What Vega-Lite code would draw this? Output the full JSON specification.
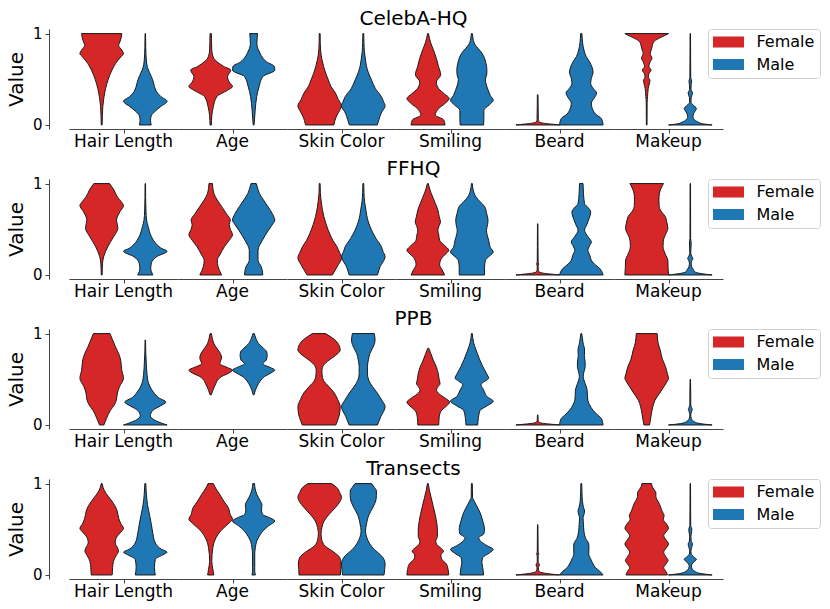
{
  "$schema": "https://vega.github.io/schema/vega-lite/v6.json",
  "padding": {"left": 6, "top": 8, "right": 5, "bottom": 2},
  "background": "white",
  "config": {
    "font": "DejaVu Sans",
    "view": {"stroke": null},
    "title": {"fontSize": 20, "fontWeight": "normal", "color": "black", "anchor": "middle", "offset": -2},
    "axis": {"domainColor": "#444444", "tickColor": "#444444", "labelColor": "black", "titleColor": "black", "titleFontWeight": "normal"},
    "header": {"labelFontSize": 17, "labelColor": "black", "labelOrient": "bottom", "labelPadding": 0},
    "legend": {
      "title": null, "orient": "right", "offset": -15,
      "symbolType": "M-1.94,-0.68H1.94V0.68H-1.94Z", "symbolSize": 256, "symbolOffset": 7.5, "symbolStrokeWidth": 0, "symbolOpacity": 1,
      "labelFontSize": 16, "labelColor": "black", "labelOffset": 20,
      "strokeColor": "#d0d0d0", "fillColor": "white", "padding": 5, "cornerRadius": 3, "rowPadding": 6.5
    }
  },
  "datasets": {
    "celeba": [
      {"a":"Hair Length","g":"Female","v":0,"w":0.02},{"a":"Hair Length","g":"Female","v":0.1,"w":0.03},{"a":"Hair Length","g":"Female","v":0.2,"w":0.05},{"a":"Hair Length","g":"Female","v":0.3,"w":0.1},{"a":"Hair Length","g":"Female","v":0.4,"w":0.18},{"a":"Hair Length","g":"Female","v":0.5,"w":0.3},{"a":"Hair Length","g":"Female","v":0.6,"w":0.47},{"a":"Hair Length","g":"Female","v":0.7,"w":0.72},{"a":"Hair Length","g":"Female","v":0.75,"w":0.9},{"a":"Hair Length","g":"Female","v":0.78,"w":1.0},{"a":"Hair Length","g":"Female","v":0.82,"w":0.92},{"a":"Hair Length","g":"Female","v":0.87,"w":0.78},{"a":"Hair Length","g":"Female","v":0.92,"w":0.85},{"a":"Hair Length","g":"Female","v":0.96,"w":0.9},{"a":"Hair Length","g":"Female","v":1,"w":0.92},
      {"a":"Hair Length","g":"Male","v":0,"w":0.27},{"a":"Hair Length","g":"Male","v":0.05,"w":0.24},{"a":"Hair Length","g":"Male","v":0.1,"w":0.27},{"a":"Hair Length","g":"Male","v":0.15,"w":0.45},{"a":"Hair Length","g":"Male","v":0.2,"w":0.7},{"a":"Hair Length","g":"Male","v":0.26,"w":1.0},{"a":"Hair Length","g":"Male","v":0.31,"w":0.72},{"a":"Hair Length","g":"Male","v":0.37,"w":0.5},{"a":"Hair Length","g":"Male","v":0.42,"w":0.42},{"a":"Hair Length","g":"Male","v":0.5,"w":0.33},{"a":"Hair Length","g":"Male","v":0.57,"w":0.2},{"a":"Hair Length","g":"Male","v":0.63,"w":0.1},{"a":"Hair Length","g":"Male","v":0.7,"w":0.05},{"a":"Hair Length","g":"Male","v":0.85,"w":0.02},{"a":"Hair Length","g":"Male","v":1,"w":0.01},
      {"a":"Age","g":"Female","v":0,"w":0.03},{"a":"Age","g":"Female","v":0.1,"w":0.05},{"a":"Age","g":"Female","v":0.2,"w":0.12},{"a":"Age","g":"Female","v":0.31,"w":0.28},{"a":"Age","g":"Female","v":0.38,"w":0.77},{"a":"Age","g":"Female","v":0.42,"w":1.0},{"a":"Age","g":"Female","v":0.47,"w":0.85},{"a":"Age","g":"Female","v":0.53,"w":0.77},{"a":"Age","g":"Female","v":0.6,"w":0.92},{"a":"Age","g":"Female","v":0.64,"w":0.6},{"a":"Age","g":"Female","v":0.69,"w":0.3},{"a":"Age","g":"Female","v":0.73,"w":0.14},{"a":"Age","g":"Female","v":0.82,"w":0.05},{"a":"Age","g":"Female","v":1,"w":0.03},
      {"a":"Age","g":"Male","v":0,"w":0.02},{"a":"Age","g":"Male","v":0.16,"w":0.07},{"a":"Age","g":"Male","v":0.31,"w":0.14},{"a":"Age","g":"Male","v":0.42,"w":0.25},{"a":"Age","g":"Male","v":0.53,"w":0.42},{"a":"Age","g":"Male","v":0.6,"w":0.97},{"a":"Age","g":"Male","v":0.64,"w":0.95},{"a":"Age","g":"Male","v":0.69,"w":0.6},{"a":"Age","g":"Male","v":0.74,"w":0.4},{"a":"Age","g":"Male","v":0.78,"w":0.3},{"a":"Age","g":"Male","v":0.82,"w":0.22},{"a":"Age","g":"Male","v":0.89,"w":0.15},{"a":"Age","g":"Male","v":0.95,"w":0.16},{"a":"Age","g":"Male","v":1,"w":0.18},
      {"a":"Skin Color","g":"Female","v":0,"w":0.65},{"a":"Skin Color","g":"Female","v":0.05,"w":0.7},{"a":"Skin Color","g":"Female","v":0.11,"w":0.8},{"a":"Skin Color","g":"Female","v":0.16,"w":0.92},{"a":"Skin Color","g":"Female","v":0.21,"w":1.0},{"a":"Skin Color","g":"Female","v":0.28,"w":0.85},{"a":"Skin Color","g":"Female","v":0.35,"w":0.72},{"a":"Skin Color","g":"Female","v":0.42,"w":0.52},{"a":"Skin Color","g":"Female","v":0.49,"w":0.4},{"a":"Skin Color","g":"Female","v":0.57,"w":0.27},{"a":"Skin Color","g":"Female","v":0.64,"w":0.18},{"a":"Skin Color","g":"Female","v":0.72,"w":0.1},{"a":"Skin Color","g":"Female","v":0.82,"w":0.04},{"a":"Skin Color","g":"Female","v":0.9,"w":0.025},{"a":"Skin Color","g":"Female","v":1,"w":0.02},
      {"a":"Skin Color","g":"Male","v":0,"w":0.64},{"a":"Skin Color","g":"Male","v":0.06,"w":0.72},{"a":"Skin Color","g":"Male","v":0.13,"w":0.82},{"a":"Skin Color","g":"Male","v":0.21,"w":1.0},{"a":"Skin Color","g":"Male","v":0.26,"w":0.92},{"a":"Skin Color","g":"Male","v":0.31,"w":0.83},{"a":"Skin Color","g":"Male","v":0.4,"w":0.55},{"a":"Skin Color","g":"Male","v":0.49,"w":0.38},{"a":"Skin Color","g":"Male","v":0.58,"w":0.22},{"a":"Skin Color","g":"Male","v":0.65,"w":0.14},{"a":"Skin Color","g":"Male","v":0.71,"w":0.1},{"a":"Skin Color","g":"Male","v":0.8,"w":0.05},{"a":"Skin Color","g":"Male","v":0.9,"w":0.03},{"a":"Skin Color","g":"Male","v":1,"w":0.02},
      {"a":"Smiling","g":"Female","v":0,"w":0.78},{"a":"Smiling","g":"Female","v":0.055,"w":0.72},{"a":"Smiling","g":"Female","v":0.11,"w":0.33},{"a":"Smiling","g":"Female","v":0.18,"w":0.49},{"a":"Smiling","g":"Female","v":0.24,"w":0.8},{"a":"Smiling","g":"Female","v":0.29,"w":0.97},{"a":"Smiling","g":"Female","v":0.34,"w":0.75},{"a":"Smiling","g":"Female","v":0.4,"w":0.48},{"a":"Smiling","g":"Female","v":0.47,"w":0.38},{"a":"Smiling","g":"Female","v":0.55,"w":0.58},{"a":"Smiling","g":"Female","v":0.64,"w":0.48},{"a":"Smiling","g":"Female","v":0.73,"w":0.38},{"a":"Smiling","g":"Female","v":0.82,"w":0.25},{"a":"Smiling","g":"Female","v":0.9,"w":0.12},{"a":"Smiling","g":"Female","v":1,"w":0.02},
      {"a":"Smiling","g":"Male","v":0,"w":0.54},{"a":"Smiling","g":"Male","v":0.08,"w":0.55},{"a":"Smiling","g":"Male","v":0.16,"w":0.55},{"a":"Smiling","g":"Male","v":0.22,"w":0.8},{"a":"Smiling","g":"Male","v":0.27,"w":0.98},{"a":"Smiling","g":"Male","v":0.32,"w":0.85},{"a":"Smiling","g":"Male","v":0.38,"w":0.75},{"a":"Smiling","g":"Male","v":0.45,"w":0.65},{"a":"Smiling","g":"Male","v":0.5,"w":0.62},{"a":"Smiling","g":"Male","v":0.55,"w":0.68},{"a":"Smiling","g":"Male","v":0.6,"w":0.69},{"a":"Smiling","g":"Male","v":0.67,"w":0.65},{"a":"Smiling","g":"Male","v":0.73,"w":0.58},{"a":"Smiling","g":"Male","v":0.78,"w":0.48},{"a":"Smiling","g":"Male","v":0.82,"w":0.35},{"a":"Smiling","g":"Male","v":0.86,"w":0.2},{"a":"Smiling","g":"Male","v":0.9,"w":0.1},{"a":"Smiling","g":"Male","v":0.95,"w":0.05},{"a":"Smiling","g":"Male","v":1,"w":0.02},
      {"a":"Beard","g":"Female","v":0,"w":1.0},{"a":"Beard","g":"Female","v":0.01,"w":0.6},{"a":"Beard","g":"Female","v":0.02,"w":0.25},{"a":"Beard","g":"Female","v":0.035,"w":0.06},{"a":"Beard","g":"Female","v":0.06,"w":0.03},{"a":"Beard","g":"Female","v":0.2,"w":0.02},{"a":"Beard","g":"Female","v":0.33,"w":0.015},
      {"a":"Beard","g":"Male","v":0,"w":1.0},{"a":"Beard","g":"Male","v":0.07,"w":0.92},{"a":"Beard","g":"Male","v":0.12,"w":0.65},{"a":"Beard","g":"Male","v":0.16,"w":0.54},{"a":"Beard","g":"Male","v":0.2,"w":0.48},{"a":"Beard","g":"Male","v":0.24,"w":0.46},{"a":"Beard","g":"Male","v":0.29,"w":0.58},{"a":"Beard","g":"Male","v":0.35,"w":0.7},{"a":"Beard","g":"Male","v":0.4,"w":0.55},{"a":"Beard","g":"Male","v":0.45,"w":0.43},{"a":"Beard","g":"Male","v":0.5,"w":0.45},{"a":"Beard","g":"Male","v":0.58,"w":0.54},{"a":"Beard","g":"Male","v":0.64,"w":0.48},{"a":"Beard","g":"Male","v":0.69,"w":0.38},{"a":"Beard","g":"Male","v":0.75,"w":0.22},{"a":"Beard","g":"Male","v":0.82,"w":0.12},{"a":"Beard","g":"Male","v":0.9,"w":0.06},{"a":"Beard","g":"Male","v":1,"w":0.03},
      {"a":"Makeup","g":"Female","v":0,"w":0.015},{"a":"Makeup","g":"Female","v":0.25,"w":0.02},{"a":"Makeup","g":"Female","v":0.31,"w":0.04},{"a":"Makeup","g":"Female","v":0.4,"w":0.07},{"a":"Makeup","g":"Female","v":0.46,"w":0.13},{"a":"Makeup","g":"Female","v":0.49,"w":0.15},{"a":"Makeup","g":"Female","v":0.52,"w":0.08},{"a":"Makeup","g":"Female","v":0.56,"w":0.1},{"a":"Makeup","g":"Female","v":0.6,"w":0.2},{"a":"Makeup","g":"Female","v":0.64,"w":0.1},{"a":"Makeup","g":"Female","v":0.68,"w":0.14},{"a":"Makeup","g":"Female","v":0.73,"w":0.24},{"a":"Makeup","g":"Female","v":0.78,"w":0.16},{"a":"Makeup","g":"Female","v":0.83,"w":0.22},{"a":"Makeup","g":"Female","v":0.87,"w":0.26},{"a":"Makeup","g":"Female","v":0.91,"w":0.32},{"a":"Makeup","g":"Female","v":0.945,"w":0.54},{"a":"Makeup","g":"Female","v":0.975,"w":0.8},{"a":"Makeup","g":"Female","v":1,"w":1.0},
      {"a":"Makeup","g":"Male","v":0,"w":1.0},{"a":"Makeup","g":"Male","v":0.012,"w":0.6},{"a":"Makeup","g":"Male","v":0.03,"w":0.38},{"a":"Makeup","g":"Male","v":0.055,"w":0.2},{"a":"Makeup","g":"Male","v":0.09,"w":0.12},{"a":"Makeup","g":"Male","v":0.13,"w":0.16},{"a":"Makeup","g":"Male","v":0.18,"w":0.28},{"a":"Makeup","g":"Male","v":0.22,"w":0.12},{"a":"Makeup","g":"Male","v":0.25,"w":0.03},{"a":"Makeup","g":"Male","v":0.3,"w":0.04},{"a":"Makeup","g":"Male","v":0.35,"w":0.1},{"a":"Makeup","g":"Male","v":0.39,"w":0.03},{"a":"Makeup","g":"Male","v":0.44,"w":0.04},{"a":"Makeup","g":"Male","v":0.48,"w":0.06},{"a":"Makeup","g":"Male","v":0.52,"w":0.02},{"a":"Makeup","g":"Male","v":0.7,"w":0.015},{"a":"Makeup","g":"Male","v":1,"w":0.01}
    ],
    "ffhq": [
      {"a":"Hair Length","g":"Female","v":0,"w":0.02},{"a":"Hair Length","g":"Female","v":0.13,"w":0.04},{"a":"Hair Length","g":"Female","v":0.2,"w":0.09},{"a":"Hair Length","g":"Female","v":0.31,"w":0.28},{"a":"Hair Length","g":"Female","v":0.42,"w":0.55},{"a":"Hair Length","g":"Female","v":0.51,"w":0.74},{"a":"Hair Length","g":"Female","v":0.55,"w":0.72},{"a":"Hair Length","g":"Female","v":0.6,"w":0.68},{"a":"Hair Length","g":"Female","v":0.69,"w":0.83},{"a":"Hair Length","g":"Female","v":0.76,"w":1.0},{"a":"Hair Length","g":"Female","v":0.8,"w":0.9},{"a":"Hair Length","g":"Female","v":0.85,"w":0.73},{"a":"Hair Length","g":"Female","v":0.93,"w":0.56},{"a":"Hair Length","g":"Female","v":1,"w":0.36},
      {"a":"Hair Length","g":"Male","v":0,"w":0.35},{"a":"Hair Length","g":"Male","v":0.07,"w":0.25},{"a":"Hair Length","g":"Male","v":0.13,"w":0.28},{"a":"Hair Length","g":"Male","v":0.2,"w":0.52},{"a":"Hair Length","g":"Male","v":0.26,"w":1.0},{"a":"Hair Length","g":"Male","v":0.29,"w":0.75},{"a":"Hair Length","g":"Male","v":0.33,"w":0.54},{"a":"Hair Length","g":"Male","v":0.42,"w":0.28},{"a":"Hair Length","g":"Male","v":0.53,"w":0.13},{"a":"Hair Length","g":"Male","v":0.6,"w":0.06},{"a":"Hair Length","g":"Male","v":0.7,"w":0.03},{"a":"Hair Length","g":"Male","v":0.85,"w":0.015},{"a":"Hair Length","g":"Male","v":1,"w":0.01},
      {"a":"Age","g":"Female","v":0,"w":0.5},{"a":"Age","g":"Female","v":0.05,"w":0.4},{"a":"Age","g":"Female","v":0.09,"w":0.34},{"a":"Age","g":"Female","v":0.16,"w":0.3},{"a":"Age","g":"Female","v":0.22,"w":0.42},{"a":"Age","g":"Female","v":0.31,"w":0.63},{"a":"Age","g":"Female","v":0.38,"w":0.85},{"a":"Age","g":"Female","v":0.44,"w":1.0},{"a":"Age","g":"Female","v":0.5,"w":0.9},{"a":"Age","g":"Female","v":0.55,"w":0.85},{"a":"Age","g":"Female","v":0.6,"w":0.9},{"a":"Age","g":"Female","v":0.67,"w":0.72},{"a":"Age","g":"Female","v":0.75,"w":0.5},{"a":"Age","g":"Female","v":0.82,"w":0.3},{"a":"Age","g":"Female","v":0.89,"w":0.15},{"a":"Age","g":"Female","v":1,"w":0.08},
      {"a":"Age","g":"Male","v":0,"w":0.42},{"a":"Age","g":"Male","v":0.09,"w":0.35},{"a":"Age","g":"Male","v":0.16,"w":0.2},{"a":"Age","g":"Male","v":0.27,"w":0.2},{"a":"Age","g":"Male","v":0.38,"w":0.4},{"a":"Age","g":"Male","v":0.49,"w":0.68},{"a":"Age","g":"Male","v":0.56,"w":0.88},{"a":"Age","g":"Male","v":0.6,"w":0.97},{"a":"Age","g":"Male","v":0.66,"w":0.88},{"a":"Age","g":"Male","v":0.75,"w":0.65},{"a":"Age","g":"Male","v":0.82,"w":0.45},{"a":"Age","g":"Male","v":0.89,"w":0.27},{"a":"Age","g":"Male","v":0.95,"w":0.18},{"a":"Age","g":"Male","v":1,"w":0.12},
      {"a":"Skin Color","g":"Female","v":0,"w":0.58},{"a":"Skin Color","g":"Female","v":0.09,"w":0.8},{"a":"Skin Color","g":"Female","v":0.19,"w":1.0},{"a":"Skin Color","g":"Female","v":0.25,"w":0.9},{"a":"Skin Color","g":"Female","v":0.31,"w":0.79},{"a":"Skin Color","g":"Female","v":0.38,"w":0.6},{"a":"Skin Color","g":"Female","v":0.45,"w":0.46},{"a":"Skin Color","g":"Female","v":0.55,"w":0.3},{"a":"Skin Color","g":"Female","v":0.64,"w":0.19},{"a":"Skin Color","g":"Female","v":0.72,"w":0.12},{"a":"Skin Color","g":"Female","v":0.82,"w":0.06},{"a":"Skin Color","g":"Female","v":0.9,"w":0.03},{"a":"Skin Color","g":"Female","v":1,"w":0.02},
      {"a":"Skin Color","g":"Male","v":0,"w":0.65},{"a":"Skin Color","g":"Male","v":0.09,"w":0.77},{"a":"Skin Color","g":"Male","v":0.2,"w":1.0},{"a":"Skin Color","g":"Male","v":0.26,"w":0.9},{"a":"Skin Color","g":"Male","v":0.31,"w":0.83},{"a":"Skin Color","g":"Male","v":0.4,"w":0.58},{"a":"Skin Color","g":"Male","v":0.49,"w":0.38},{"a":"Skin Color","g":"Male","v":0.58,"w":0.23},{"a":"Skin Color","g":"Male","v":0.65,"w":0.16},{"a":"Skin Color","g":"Male","v":0.71,"w":0.12},{"a":"Skin Color","g":"Male","v":0.8,"w":0.06},{"a":"Skin Color","g":"Male","v":0.9,"w":0.03},{"a":"Skin Color","g":"Male","v":1,"w":0.02},
      {"a":"Smiling","g":"Female","v":0,"w":0.77},{"a":"Smiling","g":"Female","v":0.06,"w":0.65},{"a":"Smiling","g":"Female","v":0.11,"w":0.54},{"a":"Smiling","g":"Female","v":0.18,"w":0.62},{"a":"Smiling","g":"Female","v":0.23,"w":0.82},{"a":"Smiling","g":"Female","v":0.27,"w":0.96},{"a":"Smiling","g":"Female","v":0.32,"w":0.78},{"a":"Smiling","g":"Female","v":0.38,"w":0.54},{"a":"Smiling","g":"Female","v":0.44,"w":0.5},{"a":"Smiling","g":"Female","v":0.49,"w":0.46},{"a":"Smiling","g":"Female","v":0.54,"w":0.52},{"a":"Smiling","g":"Female","v":0.58,"w":0.58},{"a":"Smiling","g":"Female","v":0.64,"w":0.52},{"a":"Smiling","g":"Female","v":0.71,"w":0.46},{"a":"Smiling","g":"Female","v":0.78,"w":0.35},{"a":"Smiling","g":"Female","v":0.85,"w":0.23},{"a":"Smiling","g":"Female","v":0.93,"w":0.1},{"a":"Smiling","g":"Female","v":1,"w":0.02},
      {"a":"Smiling","g":"Male","v":0,"w":0.58},{"a":"Smiling","g":"Male","v":0.08,"w":0.58},{"a":"Smiling","g":"Male","v":0.16,"w":0.62},{"a":"Smiling","g":"Male","v":0.21,"w":0.82},{"a":"Smiling","g":"Male","v":0.25,"w":0.98},{"a":"Smiling","g":"Male","v":0.3,"w":0.85},{"a":"Smiling","g":"Male","v":0.38,"w":0.77},{"a":"Smiling","g":"Male","v":0.44,"w":0.7},{"a":"Smiling","g":"Male","v":0.49,"w":0.67},{"a":"Smiling","g":"Male","v":0.55,"w":0.72},{"a":"Smiling","g":"Male","v":0.6,"w":0.74},{"a":"Smiling","g":"Male","v":0.67,"w":0.68},{"a":"Smiling","g":"Male","v":0.75,"w":0.58},{"a":"Smiling","g":"Male","v":0.8,"w":0.38},{"a":"Smiling","g":"Male","v":0.85,"w":0.2},{"a":"Smiling","g":"Male","v":0.92,"w":0.07},{"a":"Smiling","g":"Male","v":1,"w":0.02},
      {"a":"Beard","g":"Female","v":0,"w":1.0},{"a":"Beard","g":"Female","v":0.01,"w":0.6},{"a":"Beard","g":"Female","v":0.02,"w":0.25},{"a":"Beard","g":"Female","v":0.035,"w":0.06},{"a":"Beard","g":"Female","v":0.06,"w":0.025},{"a":"Beard","g":"Female","v":0.1,"w":0.02},{"a":"Beard","g":"Female","v":0.12,"w":0.05},{"a":"Beard","g":"Female","v":0.14,"w":0.02},{"a":"Beard","g":"Female","v":0.3,"w":0.015},{"a":"Beard","g":"Female","v":0.56,"w":0.01},
      {"a":"Beard","g":"Male","v":0,"w":1.0},{"a":"Beard","g":"Male","v":0.07,"w":0.85},{"a":"Beard","g":"Male","v":0.12,"w":0.6},{"a":"Beard","g":"Male","v":0.16,"w":0.46},{"a":"Beard","g":"Male","v":0.21,"w":0.4},{"a":"Beard","g":"Male","v":0.27,"w":0.3},{"a":"Beard","g":"Male","v":0.32,"w":0.38},{"a":"Beard","g":"Male","v":0.36,"w":0.46},{"a":"Beard","g":"Male","v":0.42,"w":0.3},{"a":"Beard","g":"Male","v":0.49,"w":0.15},{"a":"Beard","g":"Male","v":0.55,"w":0.25},{"a":"Beard","g":"Male","v":0.6,"w":0.33},{"a":"Beard","g":"Male","v":0.69,"w":0.43},{"a":"Beard","g":"Male","v":0.74,"w":0.3},{"a":"Beard","g":"Male","v":0.78,"w":0.15},{"a":"Beard","g":"Male","v":0.89,"w":0.1},{"a":"Beard","g":"Male","v":1,"w":0.08},
      {"a":"Makeup","g":"Female","v":0,"w":1.0},{"a":"Makeup","g":"Female","v":0.08,"w":0.98},{"a":"Makeup","g":"Female","v":0.16,"w":0.97},{"a":"Makeup","g":"Female","v":0.23,"w":0.85},{"a":"Makeup","g":"Female","v":0.31,"w":0.75},{"a":"Makeup","g":"Female","v":0.37,"w":0.76},{"a":"Makeup","g":"Female","v":0.42,"w":0.82},{"a":"Makeup","g":"Female","v":0.51,"w":0.97},{"a":"Makeup","g":"Female","v":0.58,"w":0.92},{"a":"Makeup","g":"Female","v":0.64,"w":0.85},{"a":"Makeup","g":"Female","v":0.7,"w":0.65},{"a":"Makeup","g":"Female","v":0.75,"w":0.57},{"a":"Makeup","g":"Female","v":0.82,"w":0.56},{"a":"Makeup","g":"Female","v":0.89,"w":0.58},{"a":"Makeup","g":"Female","v":0.95,"w":0.66},{"a":"Makeup","g":"Female","v":1,"w":0.77},
      {"a":"Makeup","g":"Male","v":0,"w":1.0},{"a":"Makeup","g":"Male","v":0.015,"w":0.5},{"a":"Makeup","g":"Male","v":0.035,"w":0.2},{"a":"Makeup","g":"Male","v":0.06,"w":0.14},{"a":"Makeup","g":"Male","v":0.09,"w":0.06},{"a":"Makeup","g":"Male","v":0.13,"w":0.04},{"a":"Makeup","g":"Male","v":0.16,"w":0.08},{"a":"Makeup","g":"Male","v":0.18,"w":0.12},{"a":"Makeup","g":"Male","v":0.2,"w":0.08},{"a":"Makeup","g":"Male","v":0.24,"w":0.02},{"a":"Makeup","g":"Male","v":0.35,"w":0.04},{"a":"Makeup","g":"Male","v":0.4,"w":0.015},{"a":"Makeup","g":"Male","v":1,"w":0.01}
    ],
    "ppb": [
      {"a":"Hair Length","g":"Female","v":0,"w":0.1},{"a":"Hair Length","g":"Female","v":0.07,"w":0.22},{"a":"Hair Length","g":"Female","v":0.16,"w":0.4},{"a":"Hair Length","g":"Female","v":0.22,"w":0.58},{"a":"Hair Length","g":"Female","v":0.27,"w":0.67},{"a":"Hair Length","g":"Female","v":0.35,"w":0.72},{"a":"Hair Length","g":"Female","v":0.42,"w":0.82},{"a":"Hair Length","g":"Female","v":0.51,"w":1.0},{"a":"Hair Length","g":"Female","v":0.6,"w":0.92},{"a":"Hair Length","g":"Female","v":0.71,"w":0.87},{"a":"Hair Length","g":"Female","v":0.78,"w":0.78},{"a":"Hair Length","g":"Female","v":0.85,"w":0.64},{"a":"Hair Length","g":"Female","v":0.93,"w":0.5},{"a":"Hair Length","g":"Female","v":1,"w":0.38},
      {"a":"Hair Length","g":"Male","v":0,"w":1.0},{"a":"Hair Length","g":"Male","v":0.02,"w":0.75},{"a":"Hair Length","g":"Male","v":0.05,"w":0.45},{"a":"Hair Length","g":"Male","v":0.1,"w":0.23},{"a":"Hair Length","g":"Male","v":0.16,"w":0.35},{"a":"Hair Length","g":"Male","v":0.21,"w":0.7},{"a":"Hair Length","g":"Male","v":0.25,"w":0.94},{"a":"Hair Length","g":"Male","v":0.3,"w":0.6},{"a":"Hair Length","g":"Male","v":0.36,"w":0.37},{"a":"Hair Length","g":"Male","v":0.45,"w":0.16},{"a":"Hair Length","g":"Male","v":0.55,"w":0.08},{"a":"Hair Length","g":"Male","v":0.7,"w":0.04},{"a":"Hair Length","g":"Male","v":0.8,"w":0.02},{"a":"Hair Length","g":"Male","v":0.93,"w":0.01},
      {"a":"Age","g":"Female","v":0.33,"w":0.03},{"a":"Age","g":"Female","v":0.38,"w":0.1},{"a":"Age","g":"Female","v":0.45,"w":0.23},{"a":"Age","g":"Female","v":0.5,"w":0.35},{"a":"Age","g":"Female","v":0.53,"w":0.5},{"a":"Age","g":"Female","v":0.57,"w":0.85},{"a":"Age","g":"Female","v":0.6,"w":1.0},{"a":"Age","g":"Female","v":0.63,"w":0.75},{"a":"Age","g":"Female","v":0.67,"w":0.42},{"a":"Age","g":"Female","v":0.7,"w":0.45},{"a":"Age","g":"Female","v":0.73,"w":0.5},{"a":"Age","g":"Female","v":0.78,"w":0.45},{"a":"Age","g":"Female","v":0.82,"w":0.34},{"a":"Age","g":"Female","v":0.86,"w":0.22},{"a":"Age","g":"Female","v":0.89,"w":0.15},{"a":"Age","g":"Female","v":0.95,"w":0.07},{"a":"Age","g":"Female","v":1,"w":0.03},
      {"a":"Age","g":"Male","v":0.33,"w":0.02},{"a":"Age","g":"Male","v":0.38,"w":0.08},{"a":"Age","g":"Male","v":0.42,"w":0.15},{"a":"Age","g":"Male","v":0.48,"w":0.3},{"a":"Age","g":"Male","v":0.53,"w":0.5},{"a":"Age","g":"Male","v":0.57,"w":0.8},{"a":"Age","g":"Male","v":0.6,"w":0.97},{"a":"Age","g":"Male","v":0.63,"w":0.75},{"a":"Age","g":"Male","v":0.67,"w":0.42},{"a":"Age","g":"Male","v":0.71,"w":0.58},{"a":"Age","g":"Male","v":0.76,"w":0.62},{"a":"Age","g":"Male","v":0.8,"w":0.6},{"a":"Age","g":"Male","v":0.84,"w":0.45},{"a":"Age","g":"Male","v":0.89,"w":0.23},{"a":"Age","g":"Male","v":0.95,"w":0.1},{"a":"Age","g":"Male","v":1,"w":0.03},
      {"a":"Skin Color","g":"Female","v":0,"w":0.77},{"a":"Skin Color","g":"Female","v":0.05,"w":0.85},{"a":"Skin Color","g":"Female","v":0.11,"w":0.93},{"a":"Skin Color","g":"Female","v":0.2,"w":0.97},{"a":"Skin Color","g":"Female","v":0.28,"w":0.85},{"a":"Skin Color","g":"Female","v":0.35,"w":0.7},{"a":"Skin Color","g":"Female","v":0.42,"w":0.45},{"a":"Skin Color","g":"Female","v":0.49,"w":0.2},{"a":"Skin Color","g":"Female","v":0.55,"w":0.14},{"a":"Skin Color","g":"Female","v":0.6,"w":0.13},{"a":"Skin Color","g":"Female","v":0.65,"w":0.2},{"a":"Skin Color","g":"Female","v":0.71,"w":0.46},{"a":"Skin Color","g":"Female","v":0.76,"w":0.75},{"a":"Skin Color","g":"Female","v":0.82,"w":0.97},{"a":"Skin Color","g":"Female","v":0.88,"w":0.9},{"a":"Skin Color","g":"Female","v":0.93,"w":0.73},{"a":"Skin Color","g":"Female","v":0.97,"w":0.5},{"a":"Skin Color","g":"Female","v":1,"w":0.3},
      {"a":"Skin Color","g":"Male","v":0,"w":0.65},{"a":"Skin Color","g":"Male","v":0.09,"w":0.8},{"a":"Skin Color","g":"Male","v":0.2,"w":1.0},{"a":"Skin Color","g":"Male","v":0.27,"w":0.85},{"a":"Skin Color","g":"Male","v":0.35,"w":0.64},{"a":"Skin Color","g":"Male","v":0.42,"w":0.42},{"a":"Skin Color","g":"Male","v":0.49,"w":0.25},{"a":"Skin Color","g":"Male","v":0.56,"w":0.19},{"a":"Skin Color","g":"Male","v":0.64,"w":0.19},{"a":"Skin Color","g":"Male","v":0.72,"w":0.24},{"a":"Skin Color","g":"Male","v":0.78,"w":0.3},{"a":"Skin Color","g":"Male","v":0.82,"w":0.38},{"a":"Skin Color","g":"Male","v":0.88,"w":0.5},{"a":"Skin Color","g":"Male","v":0.93,"w":0.54},{"a":"Skin Color","g":"Male","v":1,"w":0.5},
      {"a":"Smiling","g":"Female","v":0,"w":0.48},{"a":"Smiling","g":"Female","v":0.08,"w":0.5},{"a":"Smiling","g":"Female","v":0.15,"w":0.58},{"a":"Smiling","g":"Female","v":0.21,"w":0.85},{"a":"Smiling","g":"Female","v":0.25,"w":0.98},{"a":"Smiling","g":"Female","v":0.29,"w":0.8},{"a":"Smiling","g":"Female","v":0.34,"w":0.5},{"a":"Smiling","g":"Female","v":0.38,"w":0.38},{"a":"Smiling","g":"Female","v":0.42,"w":0.45},{"a":"Smiling","g":"Female","v":0.45,"w":0.54},{"a":"Smiling","g":"Female","v":0.5,"w":0.5},{"a":"Smiling","g":"Female","v":0.56,"w":0.46},{"a":"Smiling","g":"Female","v":0.63,"w":0.38},{"a":"Smiling","g":"Female","v":0.71,"w":0.23},{"a":"Smiling","g":"Female","v":0.78,"w":0.12},{"a":"Smiling","g":"Female","v":0.84,"w":0.02},
      {"a":"Smiling","g":"Male","v":0,"w":0.27},{"a":"Smiling","g":"Male","v":0.08,"w":0.3},{"a":"Smiling","g":"Male","v":0.16,"w":0.38},{"a":"Smiling","g":"Male","v":0.21,"w":0.7},{"a":"Smiling","g":"Male","v":0.26,"w":0.98},{"a":"Smiling","g":"Male","v":0.31,"w":0.7},{"a":"Smiling","g":"Male","v":0.36,"w":0.58},{"a":"Smiling","g":"Male","v":0.4,"w":0.5},{"a":"Smiling","g":"Male","v":0.44,"w":0.42},{"a":"Smiling","g":"Male","v":0.48,"w":0.6},{"a":"Smiling","g":"Male","v":0.51,"w":0.77},{"a":"Smiling","g":"Male","v":0.56,"w":0.68},{"a":"Smiling","g":"Male","v":0.64,"w":0.5},{"a":"Smiling","g":"Male","v":0.72,"w":0.35},{"a":"Smiling","g":"Male","v":0.82,"w":0.19},{"a":"Smiling","g":"Male","v":0.9,"w":0.08},{"a":"Smiling","g":"Male","v":1,"w":0.02},
      {"a":"Beard","g":"Female","v":0,"w":1.0},{"a":"Beard","g":"Female","v":0.01,"w":0.55},{"a":"Beard","g":"Female","v":0.02,"w":0.2},{"a":"Beard","g":"Female","v":0.035,"w":0.04},{"a":"Beard","g":"Female","v":0.06,"w":0.02},{"a":"Beard","g":"Female","v":0.11,"w":0.01},
      {"a":"Beard","g":"Male","v":0,"w":1.0},{"a":"Beard","g":"Male","v":0.07,"w":0.92},{"a":"Beard","g":"Male","v":0.12,"w":0.7},{"a":"Beard","g":"Male","v":0.16,"w":0.54},{"a":"Beard","g":"Male","v":0.22,"w":0.38},{"a":"Beard","g":"Male","v":0.27,"w":0.3},{"a":"Beard","g":"Male","v":0.32,"w":0.28},{"a":"Beard","g":"Male","v":0.38,"w":0.27},{"a":"Beard","g":"Male","v":0.45,"w":0.18},{"a":"Beard","g":"Male","v":0.53,"w":0.09},{"a":"Beard","g":"Male","v":0.58,"w":0.12},{"a":"Beard","g":"Male","v":0.64,"w":0.18},{"a":"Beard","g":"Male","v":0.7,"w":0.17},{"a":"Beard","g":"Male","v":0.76,"w":0.14},{"a":"Beard","g":"Male","v":0.82,"w":0.15},{"a":"Beard","g":"Male","v":0.9,"w":0.08},{"a":"Beard","g":"Male","v":1,"w":0.02},
      {"a":"Makeup","g":"Female","v":0,"w":0.13},{"a":"Makeup","g":"Female","v":0.13,"w":0.22},{"a":"Makeup","g":"Female","v":0.2,"w":0.28},{"a":"Makeup","g":"Female","v":0.27,"w":0.38},{"a":"Makeup","g":"Female","v":0.35,"w":0.6},{"a":"Makeup","g":"Female","v":0.42,"w":0.79},{"a":"Makeup","g":"Female","v":0.47,"w":0.92},{"a":"Makeup","g":"Female","v":0.51,"w":1.0},{"a":"Makeup","g":"Female","v":0.56,"w":0.95},{"a":"Makeup","g":"Female","v":0.64,"w":0.86},{"a":"Makeup","g":"Female","v":0.72,"w":0.72},{"a":"Makeup","g":"Female","v":0.82,"w":0.62},{"a":"Makeup","g":"Female","v":0.9,"w":0.52},{"a":"Makeup","g":"Female","v":1,"w":0.48},
      {"a":"Makeup","g":"Male","v":0,"w":1.0},{"a":"Makeup","g":"Male","v":0.015,"w":0.45},{"a":"Makeup","g":"Male","v":0.04,"w":0.15},{"a":"Makeup","g":"Male","v":0.07,"w":0.05},{"a":"Makeup","g":"Male","v":0.11,"w":0.02},{"a":"Makeup","g":"Male","v":0.15,"w":0.06},{"a":"Makeup","g":"Male","v":0.17,"w":0.09},{"a":"Makeup","g":"Male","v":0.19,"w":0.06},{"a":"Makeup","g":"Male","v":0.22,"w":0.02},{"a":"Makeup","g":"Male","v":0.33,"w":0.02},{"a":"Makeup","g":"Male","v":0.5,"w":0.01}
    ],
    "transects": [
      {"a":"Hair Length","g":"Female","v":0,"w":0.48},{"a":"Hair Length","g":"Female","v":0.08,"w":0.5},{"a":"Hair Length","g":"Female","v":0.15,"w":0.54},{"a":"Hair Length","g":"Female","v":0.21,"w":0.66},{"a":"Hair Length","g":"Female","v":0.26,"w":0.77},{"a":"Hair Length","g":"Female","v":0.3,"w":0.72},{"a":"Hair Length","g":"Female","v":0.35,"w":0.62},{"a":"Hair Length","g":"Female","v":0.39,"w":0.64},{"a":"Hair Length","g":"Female","v":0.43,"w":0.73},{"a":"Hair Length","g":"Female","v":0.47,"w":0.88},{"a":"Hair Length","g":"Female","v":0.51,"w":1.0},{"a":"Hair Length","g":"Female","v":0.56,"w":0.88},{"a":"Hair Length","g":"Female","v":0.62,"w":0.78},{"a":"Hair Length","g":"Female","v":0.7,"w":0.71},{"a":"Hair Length","g":"Female","v":0.76,"w":0.6},{"a":"Hair Length","g":"Female","v":0.81,"w":0.46},{"a":"Hair Length","g":"Female","v":0.86,"w":0.3},{"a":"Hair Length","g":"Female","v":0.92,"w":0.13},{"a":"Hair Length","g":"Female","v":0.96,"w":0.06},{"a":"Hair Length","g":"Female","v":1,"w":0.02},
      {"a":"Hair Length","g":"Male","v":0,"w":0.46},{"a":"Hair Length","g":"Male","v":0.08,"w":0.42},{"a":"Hair Length","g":"Male","v":0.17,"w":0.46},{"a":"Hair Length","g":"Male","v":0.22,"w":0.8},{"a":"Hair Length","g":"Male","v":0.25,"w":1.0},{"a":"Hair Length","g":"Male","v":0.28,"w":0.75},{"a":"Hair Length","g":"Male","v":0.35,"w":0.46},{"a":"Hair Length","g":"Male","v":0.45,"w":0.35},{"a":"Hair Length","g":"Male","v":0.55,"w":0.28},{"a":"Hair Length","g":"Male","v":0.65,"w":0.2},{"a":"Hair Length","g":"Male","v":0.77,"w":0.1},{"a":"Hair Length","g":"Male","v":0.88,"w":0.05},{"a":"Hair Length","g":"Male","v":1,"w":0.02},
      {"a":"Age","g":"Female","v":0,"w":0.14},{"a":"Age","g":"Female","v":0.06,"w":0.1},{"a":"Age","g":"Female","v":0.15,"w":0.05},{"a":"Age","g":"Female","v":0.3,"w":0.1},{"a":"Age","g":"Female","v":0.41,"w":0.25},{"a":"Age","g":"Female","v":0.48,"w":0.45},{"a":"Age","g":"Female","v":0.52,"w":0.62},{"a":"Age","g":"Female","v":0.57,"w":0.85},{"a":"Age","g":"Female","v":0.61,"w":1.0},{"a":"Age","g":"Female","v":0.66,"w":0.9},{"a":"Age","g":"Female","v":0.74,"w":0.8},{"a":"Age","g":"Female","v":0.8,"w":0.62},{"a":"Age","g":"Female","v":0.88,"w":0.42},{"a":"Age","g":"Female","v":0.94,"w":0.25},{"a":"Age","g":"Female","v":1,"w":0.12},
      {"a":"Age","g":"Male","v":0,"w":0.08},{"a":"Age","g":"Male","v":0.04,"w":0.05},{"a":"Age","g":"Male","v":0.08,"w":0.05},{"a":"Age","g":"Male","v":0.23,"w":0.05},{"a":"Age","g":"Male","v":0.3,"w":0.08},{"a":"Age","g":"Male","v":0.37,"w":0.14},{"a":"Age","g":"Male","v":0.44,"w":0.3},{"a":"Age","g":"Male","v":0.48,"w":0.42},{"a":"Age","g":"Male","v":0.54,"w":0.7},{"a":"Age","g":"Male","v":0.59,"w":0.97},{"a":"Age","g":"Male","v":0.63,"w":0.7},{"a":"Age","g":"Male","v":0.66,"w":0.42},{"a":"Age","g":"Male","v":0.71,"w":0.36},{"a":"Age","g":"Male","v":0.77,"w":0.38},{"a":"Age","g":"Male","v":0.82,"w":0.28},{"a":"Age","g":"Male","v":0.88,"w":0.15},{"a":"Age","g":"Male","v":0.94,"w":0.07},{"a":"Age","g":"Male","v":1,"w":0.04},
      {"a":"Skin Color","g":"Female","v":0,"w":0.95},{"a":"Skin Color","g":"Female","v":0.06,"w":0.96},{"a":"Skin Color","g":"Female","v":0.12,"w":0.98},{"a":"Skin Color","g":"Female","v":0.19,"w":0.92},{"a":"Skin Color","g":"Female","v":0.25,"w":0.65},{"a":"Skin Color","g":"Female","v":0.32,"w":0.23},{"a":"Skin Color","g":"Female","v":0.38,"w":0.1},{"a":"Skin Color","g":"Female","v":0.45,"w":0.06},{"a":"Skin Color","g":"Female","v":0.52,"w":0.1},{"a":"Skin Color","g":"Female","v":0.59,"w":0.2},{"a":"Skin Color","g":"Female","v":0.66,"w":0.42},{"a":"Skin Color","g":"Female","v":0.74,"w":0.73},{"a":"Skin Color","g":"Female","v":0.8,"w":0.92},{"a":"Skin Color","g":"Female","v":0.85,"w":1.0},{"a":"Skin Color","g":"Female","v":0.9,"w":0.92},{"a":"Skin Color","g":"Female","v":0.96,"w":0.77},{"a":"Skin Color","g":"Female","v":1,"w":0.54},
      {"a":"Skin Color","g":"Male","v":0,"w":0.95},{"a":"Skin Color","g":"Male","v":0.06,"w":0.98},{"a":"Skin Color","g":"Male","v":0.12,"w":1.0},{"a":"Skin Color","g":"Male","v":0.17,"w":0.95},{"a":"Skin Color","g":"Male","v":0.21,"w":0.83},{"a":"Skin Color","g":"Male","v":0.28,"w":0.5},{"a":"Skin Color","g":"Male","v":0.34,"w":0.3},{"a":"Skin Color","g":"Male","v":0.41,"w":0.16},{"a":"Skin Color","g":"Male","v":0.48,"w":0.1},{"a":"Skin Color","g":"Male","v":0.56,"w":0.15},{"a":"Skin Color","g":"Male","v":0.66,"w":0.26},{"a":"Skin Color","g":"Male","v":0.73,"w":0.42},{"a":"Skin Color","g":"Male","v":0.78,"w":0.52},{"a":"Skin Color","g":"Male","v":0.81,"w":0.57},{"a":"Skin Color","g":"Male","v":0.87,"w":0.6},{"a":"Skin Color","g":"Male","v":0.92,"w":0.6},{"a":"Skin Color","g":"Male","v":0.96,"w":0.5},{"a":"Skin Color","g":"Male","v":1,"w":0.38},
      {"a":"Smiling","g":"Female","v":0,"w":0.96},{"a":"Smiling","g":"Female","v":0.06,"w":0.93},{"a":"Smiling","g":"Female","v":0.12,"w":0.85},{"a":"Smiling","g":"Female","v":0.18,"w":0.62},{"a":"Smiling","g":"Female","v":0.22,"w":0.6},{"a":"Smiling","g":"Female","v":0.26,"w":0.72},{"a":"Smiling","g":"Female","v":0.29,"w":0.62},{"a":"Smiling","g":"Female","v":0.33,"w":0.42},{"a":"Smiling","g":"Female","v":0.37,"w":0.36},{"a":"Smiling","g":"Female","v":0.42,"w":0.44},{"a":"Smiling","g":"Female","v":0.5,"w":0.44},{"a":"Smiling","g":"Female","v":0.58,"w":0.4},{"a":"Smiling","g":"Female","v":0.66,"w":0.34},{"a":"Smiling","g":"Female","v":0.75,"w":0.25},{"a":"Smiling","g":"Female","v":0.85,"w":0.15},{"a":"Smiling","g":"Female","v":0.93,"w":0.07},{"a":"Smiling","g":"Female","v":1,"w":0.02},
      {"a":"Smiling","g":"Male","v":0,"w":0.54},{"a":"Smiling","g":"Male","v":0.08,"w":0.5},{"a":"Smiling","g":"Male","v":0.14,"w":0.46},{"a":"Smiling","g":"Male","v":0.19,"w":0.5},{"a":"Smiling","g":"Male","v":0.24,"w":0.8},{"a":"Smiling","g":"Male","v":0.28,"w":0.98},{"a":"Smiling","g":"Male","v":0.32,"w":0.7},{"a":"Smiling","g":"Male","v":0.37,"w":0.4},{"a":"Smiling","g":"Male","v":0.41,"w":0.32},{"a":"Smiling","g":"Male","v":0.45,"w":0.55},{"a":"Smiling","g":"Male","v":0.5,"w":0.58},{"a":"Smiling","g":"Male","v":0.59,"w":0.5},{"a":"Smiling","g":"Male","v":0.68,"w":0.38},{"a":"Smiling","g":"Male","v":0.77,"w":0.19},{"a":"Smiling","g":"Male","v":0.82,"w":0.08},{"a":"Smiling","g":"Male","v":0.85,"w":0.03},{"a":"Smiling","g":"Male","v":1,"w":0.02},
      {"a":"Beard","g":"Female","v":0,"w":1.0},{"a":"Beard","g":"Female","v":0.01,"w":0.6},{"a":"Beard","g":"Female","v":0.02,"w":0.3},{"a":"Beard","g":"Female","v":0.04,"w":0.06},{"a":"Beard","g":"Female","v":0.08,"w":0.03},{"a":"Beard","g":"Female","v":0.11,"w":0.08},{"a":"Beard","g":"Female","v":0.14,"w":0.02},{"a":"Beard","g":"Female","v":0.21,"w":0.02},{"a":"Beard","g":"Female","v":0.23,"w":0.05},{"a":"Beard","g":"Female","v":0.25,"w":0.02},{"a":"Beard","g":"Female","v":0.4,"w":0.015},{"a":"Beard","g":"Female","v":0.55,"w":0.01},
      {"a":"Beard","g":"Male","v":0,"w":1.0},{"a":"Beard","g":"Male","v":0.04,"w":0.85},{"a":"Beard","g":"Male","v":0.08,"w":0.65},{"a":"Beard","g":"Male","v":0.12,"w":0.54},{"a":"Beard","g":"Male","v":0.18,"w":0.42},{"a":"Beard","g":"Male","v":0.23,"w":0.34},{"a":"Beard","g":"Male","v":0.3,"w":0.35},{"a":"Beard","g":"Male","v":0.34,"w":0.34},{"a":"Beard","g":"Male","v":0.4,"w":0.2},{"a":"Beard","g":"Male","v":0.48,"w":0.12},{"a":"Beard","g":"Male","v":0.55,"w":0.1},{"a":"Beard","g":"Male","v":0.63,"w":0.08},{"a":"Beard","g":"Male","v":0.66,"w":0.12},{"a":"Beard","g":"Male","v":0.7,"w":0.15},{"a":"Beard","g":"Male","v":0.74,"w":0.1},{"a":"Beard","g":"Male","v":0.81,"w":0.05},{"a":"Beard","g":"Male","v":0.9,"w":0.03},{"a":"Beard","g":"Male","v":1,"w":0.02},
      {"a":"Makeup","g":"Female","v":0,"w":0.95},{"a":"Makeup","g":"Female","v":0.04,"w":0.88},{"a":"Makeup","g":"Female","v":0.08,"w":0.78},{"a":"Makeup","g":"Female","v":0.12,"w":0.88},{"a":"Makeup","g":"Female","v":0.16,"w":0.98},{"a":"Makeup","g":"Female","v":0.2,"w":0.88},{"a":"Makeup","g":"Female","v":0.25,"w":0.78},{"a":"Makeup","g":"Female","v":0.29,"w":0.88},{"a":"Makeup","g":"Female","v":0.34,"w":1.0},{"a":"Makeup","g":"Female","v":0.38,"w":0.9},{"a":"Makeup","g":"Female","v":0.43,"w":0.78},{"a":"Makeup","g":"Female","v":0.47,"w":0.88},{"a":"Makeup","g":"Female","v":0.51,"w":1.0},{"a":"Makeup","g":"Female","v":0.56,"w":0.9},{"a":"Makeup","g":"Female","v":0.61,"w":0.76},{"a":"Makeup","g":"Female","v":0.65,"w":0.8},{"a":"Makeup","g":"Female","v":0.7,"w":0.7},{"a":"Makeup","g":"Female","v":0.74,"w":0.64},{"a":"Makeup","g":"Female","v":0.78,"w":0.58},{"a":"Makeup","g":"Female","v":0.82,"w":0.48},{"a":"Makeup","g":"Female","v":0.86,"w":0.42},{"a":"Makeup","g":"Female","v":0.9,"w":0.42},{"a":"Makeup","g":"Female","v":0.94,"w":0.32},{"a":"Makeup","g":"Female","v":0.97,"w":0.25},{"a":"Makeup","g":"Female","v":1,"w":0.22},
      {"a":"Makeup","g":"Male","v":0,"w":1.0},{"a":"Makeup","g":"Male","v":0.015,"w":0.5},{"a":"Makeup","g":"Male","v":0.04,"w":0.2},{"a":"Makeup","g":"Male","v":0.07,"w":0.08},{"a":"Makeup","g":"Male","v":0.1,"w":0.05},{"a":"Makeup","g":"Male","v":0.14,"w":0.15},{"a":"Makeup","g":"Male","v":0.17,"w":0.28},{"a":"Makeup","g":"Male","v":0.2,"w":0.15},{"a":"Makeup","g":"Male","v":0.23,"w":0.04},{"a":"Makeup","g":"Male","v":0.26,"w":0.03},{"a":"Makeup","g":"Male","v":0.3,"w":0.06},{"a":"Makeup","g":"Male","v":0.34,"w":0.1},{"a":"Makeup","g":"Male","v":0.37,"w":0.04},{"a":"Makeup","g":"Male","v":0.42,"w":0.03},{"a":"Makeup","g":"Male","v":0.46,"w":0.05},{"a":"Makeup","g":"Male","v":0.5,"w":0.07},{"a":"Makeup","g":"Male","v":0.54,"w":0.02},{"a":"Makeup","g":"Male","v":0.7,"w":0.015},{"a":"Makeup","g":"Male","v":1,"w":0.01}
    ]
  },
  "spacing": 8,
  "resolve": {"scale": {"color": "independent"}, "legend": {"color": "independent"}},
  "vconcat": [
    {
      "data": {"name": "celeba"},
      "title": "CelebA-HQ",
      "spacing": 0,
      "resolve": {"scale": {"x": "independent"}},
      "facet": {"column": {"field": "a", "type": "nominal", "title": null, "sort": ["Hair Length", "Age", "Skin Color", "Smiling", "Beard", "Makeup"]}},
      "spec": {
        "width": 109, "height": 100,
        "resolve": {"scale": {"x": "independent"}},
        "layer": [
          {
            "transform": [{"filter": "datum.g == 'Female'"}],
            "mark": {"type": "area", "orient": "horizontal", "interpolate": "monotone", "stroke": "#1a1a1a", "strokeWidth": 1, "opacity": 1},
            "encoding": {
              "y": {"field": "v", "type": "quantitative", "scale": {"domain": [-0.044, 1.05], "nice": false, "zero": false}, "axis": {"values": [0, 1], "format": "d", "title": "Value", "titleFontSize": 20, "labelFontSize": 15, "tickSize": 4, "offset": 20, "grid": false, "titlePadding": 6, "labelPadding": 3}},
              "x": {"field": "w", "type": "quantitative", "stack": "center", "scale": {"domain": [-0.25, 2.25], "nice": false, "zero": false}, "axis": {"values": [1], "labels": false, "title": null, "grid": false, "tickSize": 4}},
              "color": {"field": "g", "type": "nominal", "scale": {"domain": ["Female", "Male"], "range": ["#d62728", "#1f77b4"]}}
            }
          },
          {
            "transform": [{"filter": "datum.g == 'Male'"}],
            "mark": {"type": "area", "orient": "horizontal", "interpolate": "monotone", "stroke": "#1a1a1a", "strokeWidth": 1, "opacity": 1},
            "encoding": {
              "y": {"field": "v", "type": "quantitative", "scale": {"domain": [-0.044, 1.05], "nice": false, "zero": false}},
              "x": {"field": "w", "type": "quantitative", "stack": "center", "scale": {"domain": [-1.25, 1.25], "nice": false, "zero": false}, "axis": null},
              "color": {"field": "g", "type": "nominal", "scale": {"domain": ["Female", "Male"], "range": ["#d62728", "#1f77b4"]}}
            }
          }
        ]
      }
    },
    {
      "data": {"name": "ffhq"},
      "title": "FFHQ",
      "spacing": 0,
      "resolve": {"scale": {"x": "independent"}},
      "facet": {"column": {"field": "a", "type": "nominal", "title": null, "sort": ["Hair Length", "Age", "Skin Color", "Smiling", "Beard", "Makeup"]}},
      "spec": {
        "width": 109, "height": 100,
        "resolve": {"scale": {"x": "independent"}},
        "layer": [
          {
            "transform": [{"filter": "datum.g == 'Female'"}],
            "mark": {"type": "area", "orient": "horizontal", "interpolate": "monotone", "stroke": "#1a1a1a", "strokeWidth": 1, "opacity": 1},
            "encoding": {
              "y": {"field": "v", "type": "quantitative", "scale": {"domain": [-0.044, 1.05], "nice": false, "zero": false}, "axis": {"values": [0, 1], "format": "d", "title": "Value", "titleFontSize": 20, "labelFontSize": 15, "tickSize": 4, "offset": 20, "grid": false, "titlePadding": 6, "labelPadding": 3}},
              "x": {"field": "w", "type": "quantitative", "stack": "center", "scale": {"domain": [-0.25, 2.25], "nice": false, "zero": false}, "axis": {"values": [1], "labels": false, "title": null, "grid": false, "tickSize": 4}},
              "color": {"field": "g", "type": "nominal", "scale": {"domain": ["Female", "Male"], "range": ["#d62728", "#1f77b4"]}}
            }
          },
          {
            "transform": [{"filter": "datum.g == 'Male'"}],
            "mark": {"type": "area", "orient": "horizontal", "interpolate": "monotone", "stroke": "#1a1a1a", "strokeWidth": 1, "opacity": 1},
            "encoding": {
              "y": {"field": "v", "type": "quantitative", "scale": {"domain": [-0.044, 1.05], "nice": false, "zero": false}},
              "x": {"field": "w", "type": "quantitative", "stack": "center", "scale": {"domain": [-1.25, 1.25], "nice": false, "zero": false}, "axis": null},
              "color": {"field": "g", "type": "nominal", "scale": {"domain": ["Female", "Male"], "range": ["#d62728", "#1f77b4"]}}
            }
          }
        ]
      }
    },
    {
      "data": {"name": "ppb"},
      "title": "PPB",
      "spacing": 0,
      "resolve": {"scale": {"x": "independent"}},
      "facet": {"column": {"field": "a", "type": "nominal", "title": null, "sort": ["Hair Length", "Age", "Skin Color", "Smiling", "Beard", "Makeup"]}},
      "spec": {
        "width": 109, "height": 100,
        "resolve": {"scale": {"x": "independent"}},
        "layer": [
          {
            "transform": [{"filter": "datum.g == 'Female'"}],
            "mark": {"type": "area", "orient": "horizontal", "interpolate": "monotone", "stroke": "#1a1a1a", "strokeWidth": 1, "opacity": 1},
            "encoding": {
              "y": {"field": "v", "type": "quantitative", "scale": {"domain": [-0.044, 1.05], "nice": false, "zero": false}, "axis": {"values": [0, 1], "format": "d", "title": "Value", "titleFontSize": 20, "labelFontSize": 15, "tickSize": 4, "offset": 20, "grid": false, "titlePadding": 6, "labelPadding": 3}},
              "x": {"field": "w", "type": "quantitative", "stack": "center", "scale": {"domain": [-0.25, 2.25], "nice": false, "zero": false}, "axis": {"values": [1], "labels": false, "title": null, "grid": false, "tickSize": 4}},
              "color": {"field": "g", "type": "nominal", "scale": {"domain": ["Female", "Male"], "range": ["#d62728", "#1f77b4"]}}
            }
          },
          {
            "transform": [{"filter": "datum.g == 'Male'"}],
            "mark": {"type": "area", "orient": "horizontal", "interpolate": "monotone", "stroke": "#1a1a1a", "strokeWidth": 1, "opacity": 1},
            "encoding": {
              "y": {"field": "v", "type": "quantitative", "scale": {"domain": [-0.044, 1.05], "nice": false, "zero": false}},
              "x": {"field": "w", "type": "quantitative", "stack": "center", "scale": {"domain": [-1.25, 1.25], "nice": false, "zero": false}, "axis": null},
              "color": {"field": "g", "type": "nominal", "scale": {"domain": ["Female", "Male"], "range": ["#d62728", "#1f77b4"]}}
            }
          }
        ]
      }
    },
    {
      "data": {"name": "transects"},
      "title": "Transects",
      "spacing": 0,
      "resolve": {"scale": {"x": "independent"}},
      "facet": {"column": {"field": "a", "type": "nominal", "title": null, "sort": ["Hair Length", "Age", "Skin Color", "Smiling", "Beard", "Makeup"]}},
      "spec": {
        "width": 109, "height": 100,
        "resolve": {"scale": {"x": "independent"}},
        "layer": [
          {
            "transform": [{"filter": "datum.g == 'Female'"}],
            "mark": {"type": "area", "orient": "horizontal", "interpolate": "monotone", "stroke": "#1a1a1a", "strokeWidth": 1, "opacity": 1},
            "encoding": {
              "y": {"field": "v", "type": "quantitative", "scale": {"domain": [-0.044, 1.05], "nice": false, "zero": false}, "axis": {"values": [0, 1], "format": "d", "title": "Value", "titleFontSize": 20, "labelFontSize": 15, "tickSize": 4, "offset": 20, "grid": false, "titlePadding": 6, "labelPadding": 3}},
              "x": {"field": "w", "type": "quantitative", "stack": "center", "scale": {"domain": [-0.25, 2.25], "nice": false, "zero": false}, "axis": {"values": [1], "labels": false, "title": null, "grid": false, "tickSize": 4}},
              "color": {"field": "g", "type": "nominal", "scale": {"domain": ["Female", "Male"], "range": ["#d62728", "#1f77b4"]}}
            }
          },
          {
            "transform": [{"filter": "datum.g == 'Male'"}],
            "mark": {"type": "area", "orient": "horizontal", "interpolate": "monotone", "stroke": "#1a1a1a", "strokeWidth": 1, "opacity": 1},
            "encoding": {
              "y": {"field": "v", "type": "quantitative", "scale": {"domain": [-0.044, 1.05], "nice": false, "zero": false}},
              "x": {"field": "w", "type": "quantitative", "stack": "center", "scale": {"domain": [-1.25, 1.25], "nice": false, "zero": false}, "axis": null},
              "color": {"field": "g", "type": "nominal", "scale": {"domain": ["Female", "Male"], "range": ["#d62728", "#1f77b4"]}}
            }
          }
        ]
      }
    }
  ]
}
